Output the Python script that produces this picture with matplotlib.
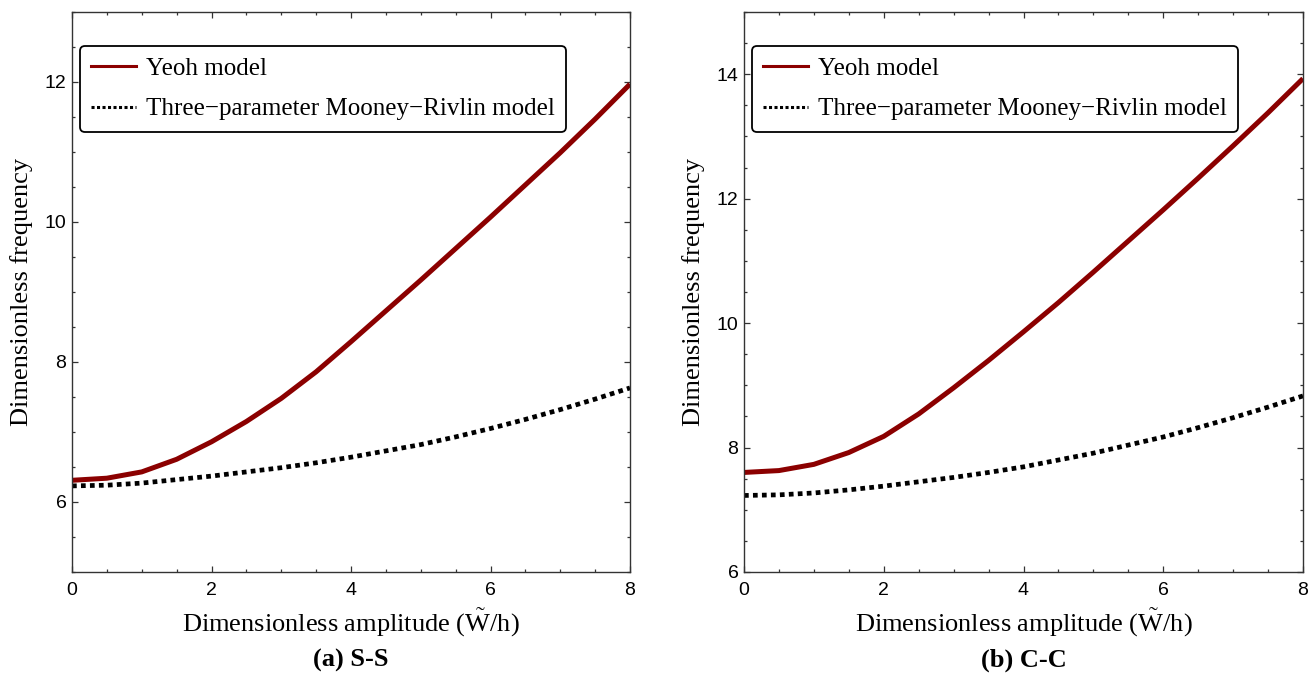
# -*- coding: utf-8 -*-
"""Nonlinear frequency vs amplitude: Yeoh vs three-parameter Mooney-Rivlin, S-S and C-C."""
import numpy as np
import matplotlib
matplotlib.use('Agg')
import matplotlib.pyplot as plt
from matplotlib.lines import Line2D
from matplotlib.ticker import MultipleLocator

plt.rcParams.update({
    'font.family': 'Liberation Serif',
    'mathtext.fontset': 'custom',
    'mathtext.rm': 'Liberation Serif',
    'axes.linewidth': 1.0,
    'axes.edgecolor': '#333333',
})

# amplitude W~/h
amp = [0, 0.5, 1, 1.5, 2, 2.5, 3, 3.5, 4, 4.5, 5, 5.5, 6, 6.5, 7, 7.5, 8]

# (a) simply supported
ss_yeoh = [6.31, 6.34, 6.43, 6.61, 6.86, 7.15, 7.48, 7.86, 8.29, 8.73, 9.17,
           9.62, 10.07, 10.53, 10.99, 11.47, 11.97]
ss_mr = [6.23, 6.24, 6.27, 6.32, 6.37, 6.43, 6.49, 6.56, 6.64, 6.73, 6.82,
         6.93, 7.05, 7.18, 7.32, 7.47, 7.63]

# (b) clamped
cc_yeoh = [7.60, 7.63, 7.73, 7.92, 8.18, 8.54, 8.96, 9.40, 9.86, 10.33, 10.82,
           11.32, 11.82, 12.33, 12.85, 13.38, 13.93]
cc_mr = [7.23, 7.24, 7.27, 7.32, 7.38, 7.45, 7.52, 7.60, 7.69, 7.80, 7.91,
         8.04, 8.17, 8.32, 8.48, 8.65, 8.83]

panels = [
    dict(yeoh=ss_yeoh, mr=ss_mr, ylim=(5, 13), yticks=[6, 8, 10, 12], cap='(a) S-S'),
    dict(yeoh=cc_yeoh, mr=cc_mr, ylim=(6, 15), yticks=[6, 8, 10, 12, 14], cap='(b) C-C'),
]

RED = '#8b0000'
W, H = 1315, 680
fig = plt.figure(figsize=(W / 100, H / 100), dpi=100)

boxes = [(72, 12, 558, 560), (744, 12, 559, 560)]
leg_left = [80, 752]

for (x0, y0, w, h), p, lx in zip(boxes, panels, leg_left):
    ax = fig.add_axes([x0 / W, 1 - (y0 + h) / H, w / W, h / H])
    ax.plot(amp, p['yeoh'], color=RED, lw=3.6, solid_capstyle='butt',
            solid_joinstyle='round')
    ax.plot(amp, p['mr'], color='black', lw=3.4, linestyle=(0, (1, 0.9)),
            dash_capstyle='butt', dash_joinstyle='round')

    ax.set_xlim(0, 8)
    ax.set_ylim(*p['ylim'])
    ax.set_xticks([0, 2, 4, 6, 8])
    ax.set_yticks(p['yticks'])
    ax.xaxis.set_minor_locator(MultipleLocator(0.5))
    ax.yaxis.set_minor_locator(MultipleLocator(0.5))
    ax.tick_params(which='both', direction='in', top=True, right=True,
                   color='#333333', width=0.9)
    ax.tick_params(which='major', length=4.5)
    ax.tick_params(which='minor', length=2.5)
    ax.tick_params(axis='x', pad=7)
    ax.tick_params(axis='y', pad=4)
    for t in ax.get_xticklabels() + ax.get_yticklabels():
        t.set_fontfamily('Liberation Sans')
        t.set_fontsize(14)

    ax.set_xlabel(r'Dimensionless amplitude ($\tilde{\mathrm{W}}$/h)', fontsize=19)
    ax.xaxis.set_label_coords(0.5, (y0 + h - 623) / h)
    ax.xaxis.label.set_va('center')
    ax.set_ylabel('Dimensionless frequency', fontsize=19)
    ax.yaxis.set_label_coords((22 - 72) / 558, 0.5)
    ax.yaxis.label.set_va('center')

    ax.text(0.5, (y0 + h - 660) / h, p['cap'], transform=ax.transAxes,
            ha='center', va='center', fontsize=19, fontweight='bold')

    handles = [Line2D([], [], color=RED, lw=2.2),
               Line2D([], [], color='black', lw=2.2, linestyle=(0, (1, 0.8)))]
    leg = ax.legend(handles, ['Yeoh model', 'Three\u2212parameter Mooney\u2212Rivlin model'],
                    loc='upper left',
                    bbox_to_anchor=((lx - x0) / w, (y0 + h - 46) / h),
                    fontsize=18, frameon=True, fancybox=True, framealpha=1,
                    edgecolor='black', handlelength=1.8, handletextpad=0.4,
                    borderpad=0.45, labelspacing=0.72, borderaxespad=0)
    leg.get_frame().set_linewidth(1.3)

fig.savefig('out.png', dpi=100)
